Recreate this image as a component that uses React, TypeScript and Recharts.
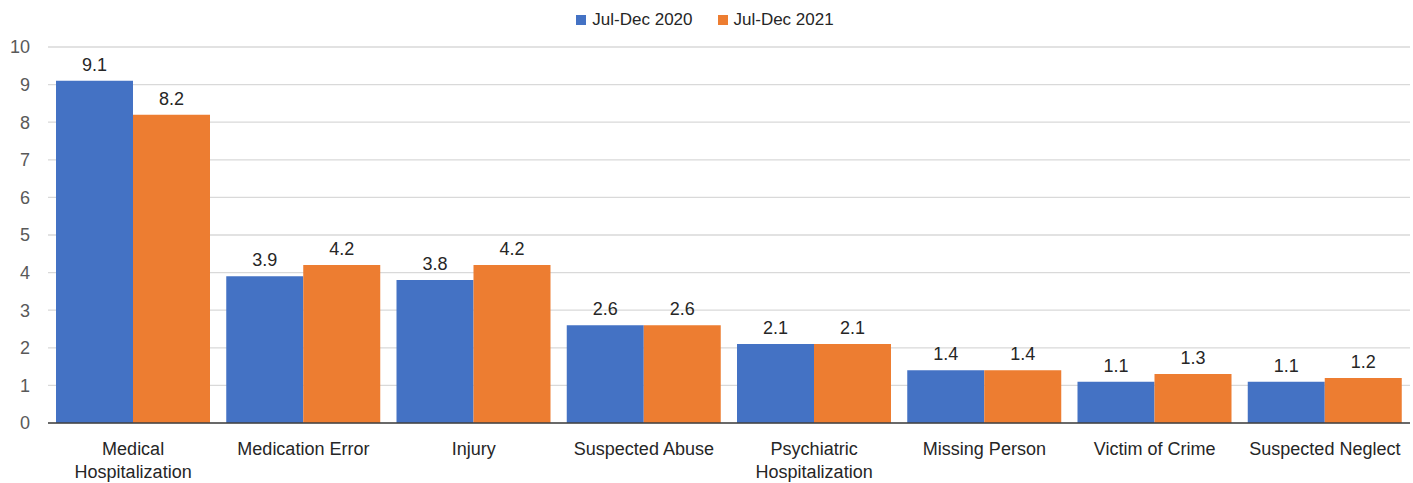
import React from 'react';
import { BarChart, Bar, XAxis, YAxis, CartesianGrid, Legend, LabelList } from 'recharts';

const categories = [
  'Medical Hospitalization',
  'Medication Error',
  'Injury',
  'Suspected Abuse',
  'Psychiatric Hospitalization',
  'Missing Person',
  'Victim of Crime',
  'Suspected Neglect',
];
const series2020 = [9.1, 3.9, 3.8, 2.6, 2.1, 1.4, 1.1, 1.1];
const series2021 = [8.2, 4.2, 4.2, 2.6, 2.1, 1.4, 1.3, 1.2];
const yTicks = [0, 1, 2, 3, 4, 5, 6, 7, 8, 9, 10];
const seriesNames = ['Jul-Dec 2020', 'Jul-Dec 2021'];

const data = categories.map((c, i) => ({ name: c, a: series2020[i], b: series2021[i] }));

const FONT = '"Liberation Sans", Arial, sans-serif';

const CategoryTick = (props: any) => {
  const { x, y, payload } = props;
  const label: string = payload.value;
  let lines = [label];
  if (label.length > 20) {
    const idx = label.indexOf(' ');
    lines = [label.slice(0, idx), label.slice(idx + 1)];
  }
  return (
    <g transform={`translate(${x},${y})`}>
      {lines.map((l, i) => (
        <text key={i} x={0} y={i * 23} dy={24} textAnchor="middle" fill="#262626" fontSize={18} fontFamily={FONT}>
          {l}
        </text>
      ))}
    </g>
  );
};

const LegendContent = () => {
  const colors = ['#4472C4', '#ED7D31'];
  return (
    <div style={{ display: 'flex', justifyContent: 'center', fontFamily: FONT, fontSize: 17, color: '#262626' }}>
      {seriesNames.map((n, i) => (
        <div key={n} style={{ display: 'flex', alignItems: 'center', marginLeft: i ? 25 : 0 }}>
          <span style={{ display: 'inline-block', width: 10, height: 10, background: colors[i], marginRight: 6 }} />
          <span>{n}</span>
        </div>
      ))}
    </div>
  );
};

export default function App() {
  return (
    <div style={{ position: 'absolute', left: 0, top: 0 }}>
      <BarChart
        width={1413}
        height={483}
        data={data}
        margin={{ top: 17, right: 3, bottom: 0, left: 0 }}
        barCategoryGap={8}
        barGap={0}
      >
        <CartesianGrid vertical={false} stroke="#d9d9d9" strokeWidth={1.3} />
        <Legend verticalAlign="top" height={30} content={<LegendContent />} wrapperStyle={{ top: 10 }} />
        <XAxis
          dataKey="name"
          tick={<CategoryTick />}
          tickLine={false}
          axisLine={{ stroke: '#404040', strokeWidth: 1.5 }}
          height={60}
          interval={0}
        />
        <YAxis
          domain={[0, 10]}
          ticks={yTicks}
          width={48}
          tickLine={false}
          axisLine={false}
          tick={{ fill: '#595959', fontSize: 18, fontFamily: FONT, dx: -10 }}
          interval={0}
        />
        <Bar dataKey="a" name={seriesNames[0]} fill="#4472C4" isAnimationActive={false}>
          <LabelList dataKey="a" position="top" offset={10} fill="#262626" fontSize={18} fontFamily={FONT} />
        </Bar>
        <Bar dataKey="b" name={seriesNames[1]} fill="#ED7D31" isAnimationActive={false}>
          <LabelList dataKey="b" position="top" offset={10} fill="#262626" fontSize={18} fontFamily={FONT} />
        </Bar>
      </BarChart>
    </div>
  );
}
